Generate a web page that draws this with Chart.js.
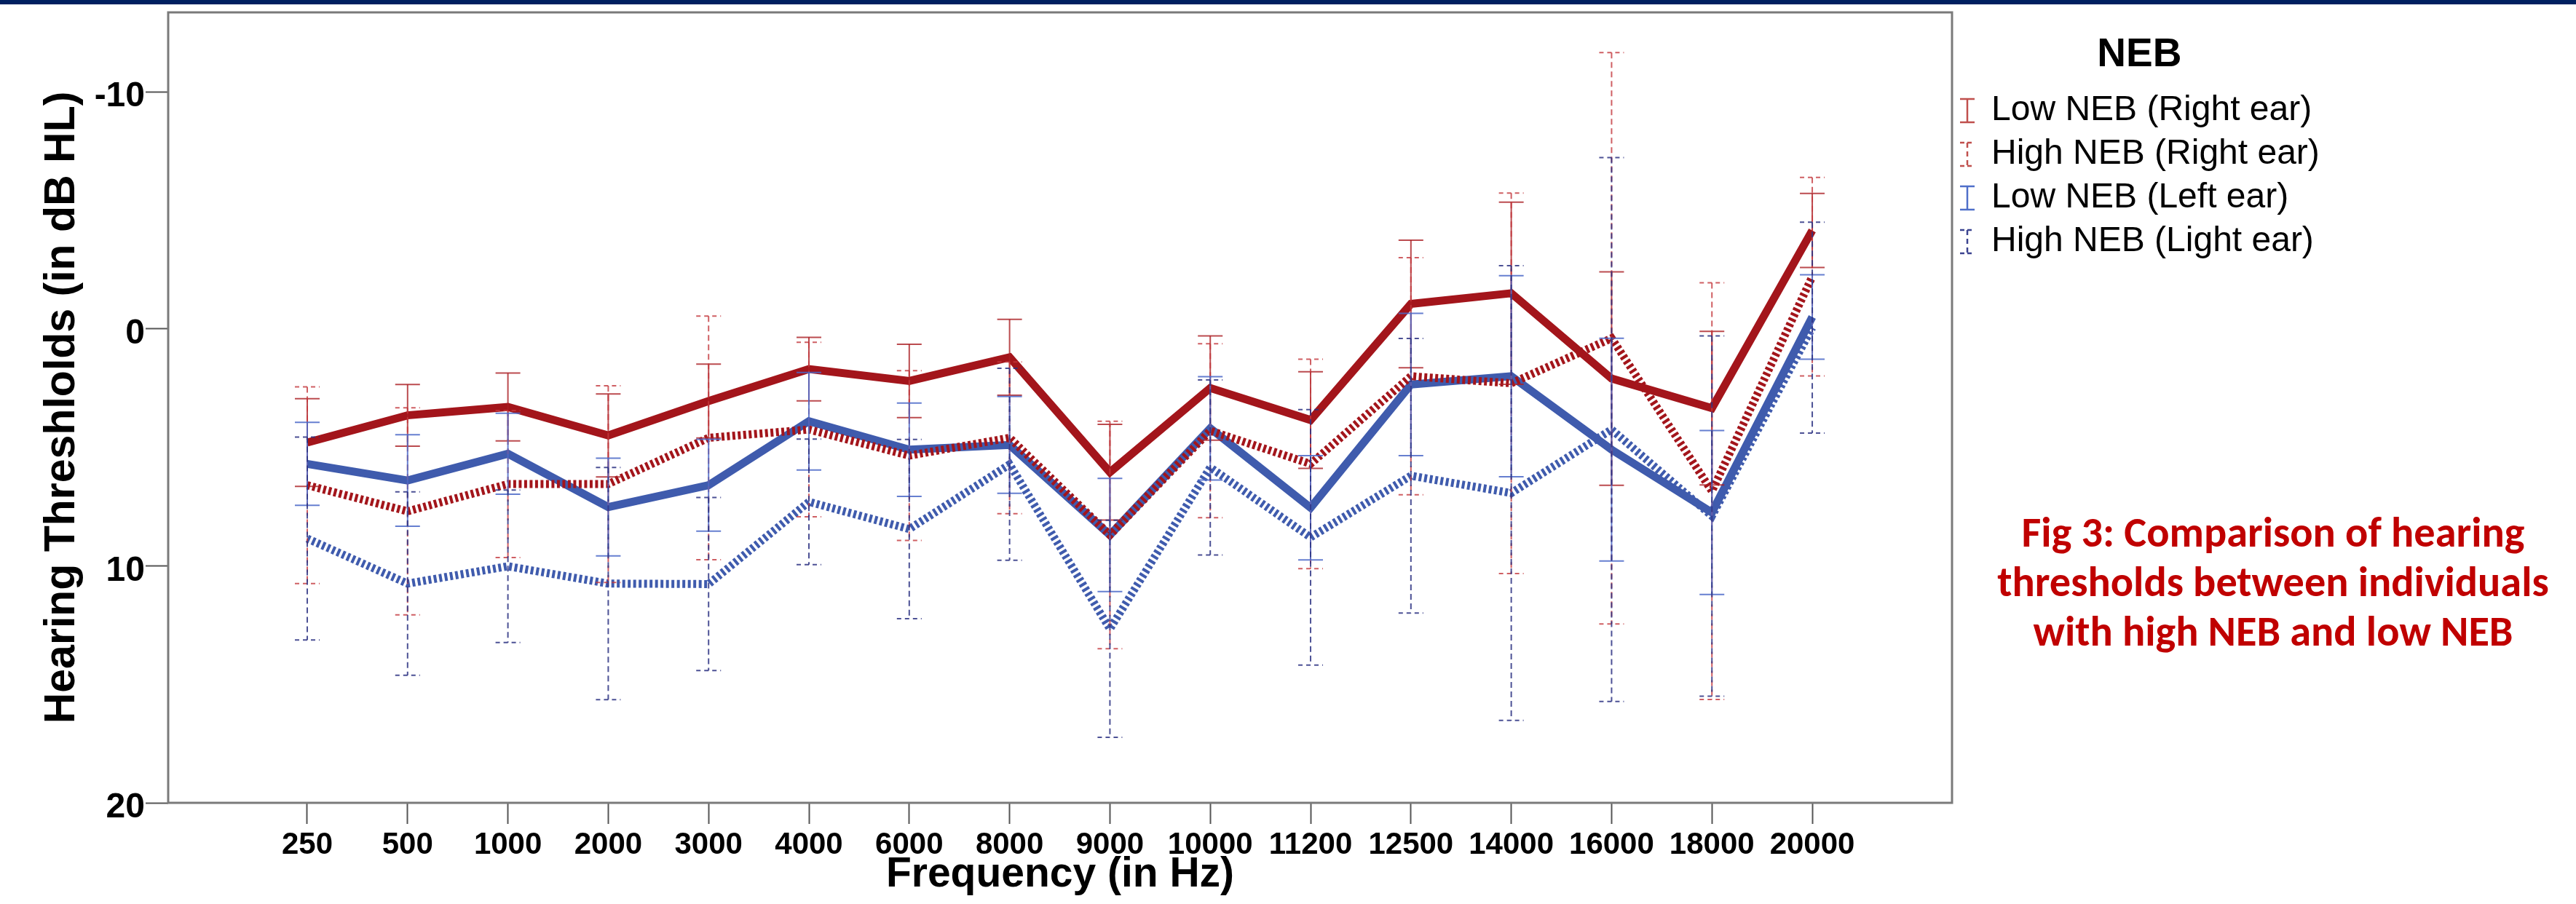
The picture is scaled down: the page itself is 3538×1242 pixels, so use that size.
<!DOCTYPE html>
<html><head><meta charset="utf-8">
<script src="https://cdn.jsdelivr.net/npm/chart.js@4.4.1/dist/chart.umd.min.js"></script>
<style>
html,body{margin:0;padding:0;background:#fff;}
#wrap{position:relative;width:3538px;height:1242px;overflow:hidden;background:#fff;}
#topbar{position:absolute;left:0;top:0;width:3538px;height:6px;background:#002060;}
#caption{position:absolute;left:2622px;top:697px;width:1000px;text-align:center;color:#C00000;font-family:Carlito,Lato,'Liberation Sans',sans-serif;font-weight:bold;font-size:54px;line-height:68px;white-space:nowrap;}
canvas{position:absolute;left:0;top:0;}
</style></head><body>
<div id="wrap"><canvas id="c" width="3538" height="1242"></canvas><div id="topbar"></div>
<div id="caption">Fig 3: Comparison of hearing<br>thresholds between individuals<br>with high NEB and low NEB</div></div>
<script>
// ---- data (dB HL) ----
const frequencies = ['250','500','1000','2000','3000','4000','6000','8000','9000','10000','11200','12500','14000','16000','18000','20000'];
const yTicks = [-10, 0, 10, 20];

const lowRight    = [4.8, 3.65, 3.3, 4.5, 3.05, 1.7, 2.2, 1.2, 6.05, 2.5, 3.85, -1.05, -1.5, 2.1, 3.35, -4.15];
const lowRightErr = [1.85, 1.3, 1.43, 1.75, 1.56, 1.34, 1.55, 1.6, 2.02, 2.2, 2.04, 2.69, 3.84, 4.5, 3.24, 1.56];

const highRight    = [6.6, 7.7, 6.55, 6.55, 4.6, 4.25, 5.35, 4.6, 8.7, 4.3, 5.7, 2.0, 2.3, 0.4, 6.85, -2.2];
const highRightErr = [4.15, 4.37, 3.1, 4.15, 5.14, 3.68, 3.58, 3.2, 4.8, 3.67, 4.42, 5.0, 8.03, 12.05, 8.79, 4.19];

const lowLeft    = [5.7, 6.4, 5.27, 7.52, 6.6, 3.9, 5.1, 4.9, 8.7, 4.2, 7.55, 2.35, 2.0, 5.1, 7.75, -0.5];
const lowLeftErr = [1.75, 1.93, 1.71, 2.06, 1.94, 2.06, 1.97, 2.04, 2.39, 2.18, 2.2, 3.0, 4.24, 4.7, 3.46, 1.78];

const highLeft    = [8.85, 10.75, 10.02, 10.75, 10.77, 7.3, 8.45, 5.72, 12.66, 5.85, 8.8, 6.2, 6.93, 4.25, 7.9, -0.05];
const highLeftErr = [4.28, 3.87, 3.22, 4.9, 3.65, 2.65, 3.78, 4.05, 4.58, 3.69, 5.39, 5.79, 9.59, 11.47, 7.6, 4.45];

const seriesNames = ['Low NEB (Right ear)', 'High NEB (Right ear)', 'Low NEB (Left ear)', 'High NEB (Light ear)'];

// ---- styling ----
const RED = '#A3151B', BLUE = '#3F5BAD';
function makeIcon(color, dashed) {
  const c = document.createElement('canvas'); c.width = 24; c.height = 36;
  const g = c.getContext('2d'); g.strokeStyle = color; g.lineWidth = 2.5;
  if (dashed) g.setLineDash([6, 4]);
  g.beginPath();
  g.moveTo(2, 2); g.lineTo(22, 2);
  g.moveTo(2, 34); g.lineTo(22, 34);
  g.stroke();
  if (dashed) g.setLineDash([7, 5]);
  g.beginPath(); g.moveTo(12, 2); g.lineTo(12, 34); g.stroke();
  return c;
}
const toPts = arr => arr.map((v, i) => ({x: i, y: v}));

function ds(label, data, err, color, dotted, errColor, iconColor) {
  return {
    label, data: toPts(data), errorBars: err, errColor, errDashed: dotted,
    borderColor: color, backgroundColor: color, borderWidth: 11,
    borderDash: dotted ? [4, 3.5] : [], tension: 0, pointRadius: 0, pointHoverRadius: 0,
    pointStyle: makeIcon(iconColor, dotted), fill: false
  };
}

const errorBarPlugin = {
  id: 'errorBars',
  afterDatasetsDraw(chart) {
    const {ctx, chartArea: a, scales: {x, y}} = chart;
    ctx.save();
    ctx.beginPath(); ctx.rect(a.left, a.top, a.right - a.left, a.bottom - a.top); ctx.clip();
    chart.data.datasets.forEach(d => {
      ctx.strokeStyle = d.errColor; ctx.lineWidth = 2;
      d.data.forEach((p, i) => {
        const e = d.errorBars[i];
        const px = x.getPixelForValue(p.x);
        const yt = y.getPixelForValue(p.y - e);
        const yb = y.getPixelForValue(p.y + e);
        ctx.setLineDash(d.errDashed ? [8, 5] : []);
        ctx.beginPath(); ctx.moveTo(px, yt); ctx.lineTo(px, yb); ctx.stroke();
        ctx.setLineDash(d.errDashed ? [6, 5] : []);
        ctx.beginPath();
        ctx.moveTo(px - 17, yt); ctx.lineTo(px + 17, yt);
        ctx.moveTo(px - 17, yb); ctx.lineTo(px + 17, yb);
        ctx.stroke();
      });
    });
    ctx.restore();
    // plot frame
    ctx.save();
    ctx.strokeStyle = '#7a7a7a'; ctx.lineWidth = 3; ctx.setLineDash([]);
    ctx.strokeRect(a.left, a.top, a.right - a.left, a.bottom - a.top);
    ctx.restore();
  }
};

const chart = new Chart(document.getElementById('c'), {
  type: 'line',
  data: {
    datasets: [
      ds(seriesNames[0], lowRight, lowRightErr, RED, false, 'rgba(170,30,35,0.8)', '#C0504D'),
      ds(seriesNames[1], highRight, highRightErr, RED, true, 'rgba(195,55,60,0.8)', '#C0504D'),
      ds(seriesNames[2], lowLeft, lowLeftErr, BLUE, false, 'rgba(75,105,200,0.85)', '#4F6FC9'),
      ds(seriesNames[3], highLeft, highLeftErr, BLUE, true, 'rgba(45,50,130,0.85)', '#3C4490')
    ]
  },
  options: {
    responsive: false, animation: false, devicePixelRatio: 1, events: [],
    layout: {padding: {top: 17, left: 0, bottom: 0, right: 340}},
    scales: {
      x: {
        type: 'linear', min: -1.386, max: 16.393,
        border: {display: false},
        grid: {drawOnChartArea: false, drawTicks: true, tickLength: 29, tickColor: '#555', tickWidth: 2},
        ticks: {stepSize: 1, includeBounds: false, autoSkip: false, maxRotation: 0, padding: 4,
          color: '#000', font: {family: 'Liberation Sans', size: 42, weight: 'bold'},
          callback: v => frequencies[v] !== undefined ? frequencies[v] : ''},
        afterBuildTicks: s => { s.ticks = s.ticks.filter(t => t.value >= 0 && t.value < frequencies.length); },
        afterFit: s => { s.height = 139; s.paddingLeft = 0; s.paddingRight = 0; },
        title: {display: true, text: 'Frequency (in Hz)', color: '#000',
          font: {family: 'Liberation Sans', size: 57, weight: 'bold'}, padding: {top: 0, bottom: 6}}
      },
      y: {
        type: 'linear', reverse: true, min: -13.35, max: 20,
        border: {display: false},
        grid: {drawOnChartArea: false, drawTicks: true, tickLength: 31, tickColor: '#555', tickWidth: 2},
        ticks: {stepSize: 10, includeBounds: false, padding: 1, labelOffset: 7, color: '#000',
          font: {family: 'Liberation Sans', size: 48, weight: 'bold'}},
        afterBuildTicks: s => { s.ticks = yTicks.map(v => ({value: v})); },
        afterFit: s => { s.width = 231; s.paddingTop = 0; s.paddingBottom = 0; },
        title: {display: true, text: 'Hearing Threshlolds (in dB HL)', color: '#000',
          font: {family: 'Liberation Sans', size: 59, weight: 'bold'}, padding: {top: 50, bottom: 0}}
      }
    },
    plugins: {
      tooltip: {enabled: false},
      legend: {
        display: true, position: 'right', align: 'start',
        title: {display: true, text: 'NEB', color: '#000', position: 'center',
          font: {family: 'Liberation Sans', size: 55, weight: 'bold'}, padding: {top: 31, bottom: 2}},
        labels: {usePointStyle: true, boxWidth: 18, boxHeight: 36, padding: 12, color: '#000',
          font: {family: 'Liberation Sans', size: 48}}
      }
    }
  },
  plugins: [errorBarPlugin]
});

// place the legend column right next to the plot frame (frame right edge at x=2681)
const lw = chart.legend.width;
chart.options.layout.padding.right = Math.max(0, 3538 - 2681 - lw);
chart.update('none');

// fit caption font so the middle line matches the figure's width
(function () {
  const cap = document.getElementById('caption');
  const fam = getComputedStyle(cap).fontFamily;
  const g = document.createElement('canvas').getContext('2d');
  g.font = 'bold 100px ' + fam;
  const w = g.measureText('thresholds between individuals').width;
  cap.style.fontSize = (100 * 757 / w).toFixed(1) + 'px';
})();
</script>
</body></html>
